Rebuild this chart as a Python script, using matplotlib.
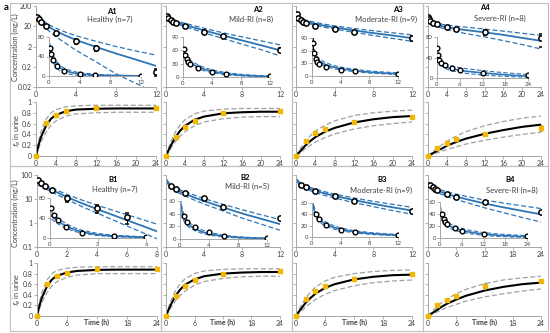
import numpy as np
import matplotlib.pyplot as plt
from matplotlib.patches import Rectangle

plt.rcParams['font.family'] = ['Lato', 'DejaVu Sans']

W, H = 550, 333
fig = plt.figure(figsize=(5.5, 3.33), dpi=100)

BLUE = '#2E75B6'
GOLD = '#F2B705'
AXC = '#A6A6A6'
TXT = '#404040'

# ---------------- concentration data ----------------
t_A = [0.083, 0.25, 0.5, 1, 2, 4, 6, 12]
t_A9 = [0.083, 0.25, 0.5, 0.75, 1, 2, 4, 6, 12]
t_A4 = [0.083, 0.25, 0.5, 1, 2, 4, 6, 12, 24]
t_B1 = [0.083, 0.25, 0.5, 1, 2, 4, 6]
t_B = [0.5, 1, 2, 4, 6, 12]
t_B4 = [0.5, 1, 1.5, 2, 4, 6, 12, 24]

c_A1 = [57, 45, 32, 20, 9.3, 3.7, 1.7, 0.11]
c_A2 = [62, 50, 41, 34, 29, 20, 11, 6.5, 1.4]
c_A3 = [78, 54, 40, 34, 29, 21, 15, 11, 5.2]
c_A4 = [58, 45, 36, 30, 25, 19, 15, 10, 5]
c_B1 = [60, 46, 36, 23, 10.5, 4.1, 1.7]
c_B2 = [36, 27, 18.5, 10.5, 4.8, 1.6]
c_B3 = [40, 32, 22, 13, 8.5, 3.3]
c_B4 = [40, 31, 27, 24, 16.5, 12, 7.5, 2.9]

sd_A1 = [0, 0, 0, 0, 0, 1.0, 0.5, 0.04]
sd_A2 = [0, 0, 0, 0, 0, 0, 2, 0.8, 0.3]
sd_A3 = [15, 0, 0, 0, 0, 0, 2, 0, 1.5]
sd_A4 = [0, 0, 0, 0, 0, 0, 0, 3, 3]
sd_B1 = [0, 0, 0, 0, 3, 1.5, 0.8]
sd_B2 = [0, 0, 0, 0, 0, 0]
sd_B3 = [0, 0, 0, 0, 0, 0]
sd_B4 = [0, 0, 0, 0, 0, 0, 0, 0]

# fitted curves (knots)
tk12 = [0.083, 0.25, 0.5, 1, 1.5, 2, 3, 4, 6, 8, 10, 12]
tk24 = [0.083, 0.25, 0.5, 1, 2, 3, 4, 6, 8, 12, 16, 20, 24]
tk8 = [0.083, 0.25, 0.5, 1, 1.5, 2, 3, 4, 6, 8]

fit_A1 = [62, 50, 38, 24, 16, 11.5, 6.8, 4.2, 1.9, 0.9, 0.45, 0.22]
up_A1 = [68, 56, 44, 30, 21, 16, 10, 6.8, 3.6, 2.0, 1.2, 0.75]
lo_A1 = [54, 42, 29, 16, 9.5, 6, 2.8, 1.3, 0.35, 0.09, 0.03, 0.01]

fit_A2 = [62, 52, 43, 33, 27, 23, 17, 12.5, 7, 4, 2.3, 1.3]
up_A2 = [68, 58, 49, 38, 32, 28, 21, 16, 9.5, 6, 3.8, 2.4]
lo_A2 = [56, 46, 37, 28, 23, 19, 13.5, 9.5, 5, 2.6, 1.4, 0.7]

fit_A3 = [72, 58, 46, 35, 30, 26, 21, 17.5, 12.5, 9.2, 7, 5.2]
up_A3 = [78, 64, 52, 40, 35, 31, 25, 21, 15.5, 12, 9.5, 7.5]
lo_A3 = [66, 52, 41, 31, 26, 22, 17.5, 14.5, 10, 7, 5, 3.6]

fit_A4 = [58, 47, 38, 30, 24, 20, 18, 15, 13, 10, 7.5, 5.3, 3.8]
up_A4 = [64, 53, 44, 35, 29, 25, 23, 20, 18, 14.5, 11.5, 9, 7]
lo_A4 = [52, 41, 32, 25, 19.5, 16, 14, 11, 8.7, 6, 3.9, 2.5, 1.5]

fit_B1 = [45, 40, 33, 24, 17, 12, 6.6, 3.8, 1.3, 0.45]
up_B1 = [52, 46, 39, 29, 21, 15.5, 9, 5.5, 2.2, 0.9]
lo_B1 = [38, 34, 28, 19.5, 13.5, 9.5, 4.8, 2.6, 0.75, 0.22]

fit_B2 = [58, 45, 34, 25, 20, 16.5, 11.5, 8.2, 4.5, 2.5, 1.5, 0.9]
up_B2 = [65, 51, 39, 29, 24, 20, 14.5, 10.5, 6, 3.6, 2.2, 1.4]
lo_B2 = [51, 39, 29, 21, 16.5, 13.5, 9, 6.2, 3.2, 1.6, 0.9, 0.5]

fit_B3 = [62, 50, 40, 31, 26, 22, 17, 13.5, 9, 6.3, 4.5, 3.3]
up_B3 = [68, 55, 45, 35, 30, 26, 20, 16, 11, 8, 6, 4.5]
lo_B3 = [56, 45, 35, 27, 22, 18.5, 14, 11, 7, 4.8, 3.3, 2.3]

fit_B4 = [48, 42, 35, 28, 22, 19, 16.5, 12.5, 10, 6.5, 4.5, 3.2, 2.3]
up_B4 = [54, 48, 41, 33, 26, 23, 20, 16, 13, 9, 6.8, 5.2, 4]
lo_B4 = [42, 36, 30, 24, 18, 15.5, 13, 9.5, 7.3, 4.3, 2.7, 1.7, 1.1]

# ---------------- fraction excreted in urine ----------------
t_fe = [0, 2, 4, 6, 12, 24]
fe_A1 = [0, 0.61, 0.76, 0.83, 0.88, 0.89]
fe_A2 = [0, 0.35, 0.54, 0.65, 0.80, 0.83]
fe_A3 = [0, 0.28, 0.42, 0.50, 0.63, 0.72]
fe_A4 = [0, 0.15, 0.24, 0.31, 0.41, 0.52]
fe_B1 = [0, 0.60, 0.75, 0.81, 0.88, 0.88]
fe_B2 = [0, 0.38, 0.57, 0.67, 0.79, 0.84]
fe_B3 = [0, 0.32, 0.48, 0.57, 0.70, 0.80]
fe_B4 = [0, 0.20, 0.30, 0.38, 0.57, 0.66]
fesd_A4 = [0, 0, 0, 0, 0, 0.06]
fesd_B4 = [0, 0, 0, 0, 0.06, 0]

tkf = [0, 0.5, 1, 2, 3, 4, 6, 8, 12, 16, 20, 24]
ffit_A1 = [0, 0.2, 0.35, 0.56, 0.69, 0.76, 0.83, 0.86, 0.875, 0.88, 0.88, 0.88]
fup_A1 = [0, 0.27, 0.45, 0.68, 0.80, 0.86, 0.91, 0.93, 0.94, 0.94, 0.94, 0.94]
flo_A1 = [0, 0.14, 0.26, 0.44, 0.57, 0.65, 0.74, 0.78, 0.80, 0.81, 0.81, 0.81]
ffit_A2 = [0, 0.1, 0.19, 0.35, 0.47, 0.56, 0.67, 0.73, 0.79, 0.81, 0.82, 0.82]
fup_A2 = [0, 0.14, 0.26, 0.45, 0.58, 0.67, 0.78, 0.83, 0.87, 0.88, 0.88, 0.88]
flo_A2 = [0, 0.07, 0.14, 0.27, 0.37, 0.45, 0.56, 0.63, 0.69, 0.72, 0.73, 0.73]
ffit_A3 = [0, 0.05, 0.1, 0.2, 0.28, 0.35, 0.45, 0.52, 0.62, 0.68, 0.72, 0.74]
fup_A3 = [0, 0.08, 0.15, 0.28, 0.38, 0.46, 0.57, 0.65, 0.75, 0.8, 0.83, 0.85]
flo_A3 = [0, 0.03, 0.07, 0.14, 0.2, 0.26, 0.34, 0.41, 0.5, 0.56, 0.6, 0.63]
ffit_A4 = [0, 0.025, 0.05, 0.1, 0.14, 0.19, 0.26, 0.32, 0.41, 0.48, 0.54, 0.58]
fup_A4 = [0, 0.04, 0.08, 0.15, 0.21, 0.27, 0.37, 0.45, 0.56, 0.64, 0.7, 0.74]
flo_A4 = [0, 0.015, 0.03, 0.06, 0.09, 0.12, 0.17, 0.22, 0.29, 0.35, 0.4, 0.44]
ffit_B1 = [0, 0.2, 0.35, 0.56, 0.69, 0.76, 0.82, 0.85, 0.87, 0.875, 0.875, 0.875]
fup_B1 = [0, 0.27, 0.45, 0.68, 0.80, 0.86, 0.90, 0.92, 0.93, 0.93, 0.93, 0.93]
flo_B1 = [0, 0.14, 0.26, 0.44, 0.57, 0.65, 0.73, 0.77, 0.80, 0.80, 0.80, 0.80]
ffit_B2 = [0, 0.11, 0.21, 0.38, 0.5, 0.59, 0.69, 0.75, 0.8, 0.82, 0.83, 0.83]
fup_B2 = [0, 0.15, 0.28, 0.48, 0.61, 0.7, 0.8, 0.85, 0.88, 0.89, 0.89, 0.89]
flo_B2 = [0, 0.08, 0.15, 0.29, 0.39, 0.47, 0.58, 0.65, 0.71, 0.74, 0.75, 0.75]
ffit_B3 = [0, 0.07, 0.13, 0.25, 0.34, 0.42, 0.53, 0.6, 0.69, 0.74, 0.77, 0.78]
fup_B3 = [0, 0.1, 0.19, 0.34, 0.45, 0.54, 0.66, 0.73, 0.8, 0.84, 0.86, 0.87]
flo_B3 = [0, 0.04, 0.08, 0.17, 0.24, 0.31, 0.41, 0.48, 0.57, 0.63, 0.66, 0.68]
ffit_B4 = [0, 0.03, 0.06, 0.12, 0.18, 0.23, 0.31, 0.38, 0.48, 0.55, 0.6, 0.63]
fup_B4 = [0, 0.05, 0.1, 0.18, 0.26, 0.32, 0.42, 0.5, 0.61, 0.68, 0.72, 0.75]
flo_B4 = [0, 0.02, 0.04, 0.08, 0.12, 0.16, 0.22, 0.28, 0.36, 0.42, 0.47, 0.51]

titles = ['A1', 'A2', 'A3', 'A4', 'B1', 'B2', 'B3', 'B4']
groups = ['Healthy (n=7)', 'Mild-RI (n=8)', 'Moderate-RI (n=9)', 'Severe-RI (n=8)',
          'Healthy (n=7)', 'Mild-RI (n=5)', 'Moderate-RI (n=9)', 'Severe-RI (n=8)']

conc = [
    (t_A, c_A1, sd_A1, tk12, fit_A1, up_A1, lo_A1),
    (t_A9, c_A2, sd_A2, tk12, fit_A2, up_A2, lo_A2),
    (t_A9, c_A3, sd_A3, tk12, fit_A3, up_A3, lo_A3),
    (t_A4, c_A4, sd_A4, tk24, fit_A4, up_A4, lo_A4),
    (t_B1, c_B1, sd_B1, tk8, fit_B1, up_B1, lo_B1),
    (t_B, c_B2, sd_B2, tk12, fit_B2, up_B2, lo_B2),
    (t_B, c_B3, sd_B3, tk12, fit_B3, up_B3, lo_B3),
    (t_B4, c_B4, sd_B4, tk24, fit_B4, up_B4, lo_B4),
]
fes = [
    (fe_A1, None, ffit_A1, fup_A1, flo_A1), (fe_A2, None, ffit_A2, fup_A2, flo_A2),
    (fe_A3, None, ffit_A3, fup_A3, flo_A3), (fe_A4, fesd_A4, ffit_A4, fup_A4, flo_A4),
    (fe_B1, None, ffit_B1, fup_B1, flo_B1), (fe_B2, None, ffit_B2, fup_B2, flo_B2),
    (fe_B3, None, ffit_B3, fup_B3, flo_B3), (fe_B4, fesd_B4, ffit_B4, fup_B4, flo_B4),
]

# ---------------- layout (pixels) ----------------
colx = [(36, 156), (166, 280), (296, 412), (428, 541)]
rows = {'A': dict(conc=(6, 87), fe=(102, 156), ylim=(0.02, 200),
                  yt=[0.02, 0.2, 2, 20, 200], ytl=['0.02', '0.2', '2', '20', '200'],
                  cl=47, fl=130),
        'B': dict(conc=(175, 247), fe=(263, 316), ylim=(0.1, 100),
                  yt=[0.1, 1, 10, 100], ytl=['0.1', '1', '10', '100'],
                  cl=213, fl=289)}
main_x = [(12, [0, 4, 8, 12]), (12, [0, 4, 8, 12]), (12, [0, 4, 8, 12]), (24, [0, 4, 8, 12, 16, 20, 24]),
          (8, [0, 2, 4, 6, 8]), (12, [0, 4, 8, 12]), (12, [0, 4, 8, 12]), (24, [0, 6, 12, 18, 24])]
insets = [(49, 37, 141, 76, 80, [0, 40, 80], 12, [0, 4, 8, 12]),
          (183, 37, 270, 77, 90, [0, 30, 60, 90], 12, [0, 4, 8, 12]),
          (312, 38, 398, 76, 90, [0, 30, 60, 90], 12, [0, 4, 8, 12]),
          (437, 37, 528, 78, 80, [0, 40, 80], 24, [0, 6, 12, 18, 24]),
          (50, 198, 146, 238, 80, [0, 40, 80], 6, [0, 3, 6]),
          (180, 201, 267, 239, 60, [0, 20, 40, 60], 12, [0, 4, 8, 12]),
          (312, 203, 398, 237, 60, [0, 20, 40, 60], 12, [0, 4, 8, 12]),
          (440, 202, 527, 238, 60, [0, 20, 40, 60], 24, [0, 6, 12, 18, 24])]
title_pos = [(112, 11, 110, 19), (258, 10, 251, 19), (398, 10, 386, 19), (485, 8, 500, 18),
             (113, 180, 115, 189), (245, 177, 247, 186), (382, 180, 381, 190), (510, 180, 512, 190)]


def px_axes(x0, y0, x1, y1):
    return fig.add_axes([x0 / W, 1 - y1 / H, (x1 - x0) / W, (y1 - y0) / H])


def style(ax, fs=5):
    for s in ['top', 'right']:
        ax.spines[s].set_visible(False)
    for s in ['left', 'bottom']:
        ax.spines[s].set_color(AXC)
        ax.spines[s].set_linewidth(0.7)
    ax.tick_params(length=2, width=0.6, color=AXC, labelsize=fs, labelcolor=TXT, pad=1)
    ax.patch.set_alpha(0)


# frames
for (x0, x1) in [(10, 161), (161, 292), (292, 423), (423, 548)]:
    for (y0, y1) in [(3, 166), (166, 331)]:
        fig.patches.append(Rectangle((x0 / W, 1 - y1 / H), (x1 - x0) / W, (y1 - y0) / H,
                                     transform=fig.transFigure, fill=False,
                                     edgecolor='#BFBFBF', linewidth=0.8))

fig.text(4 / W, 1 - 8 / H, 'a', fontsize=7, fontweight='bold', va='center', ha='left')

for i in range(8):
    row = 'A' if i < 4 else 'B'
    col = i % 4
    R = rows[row]
    x0, x1 = colx[col]
    if i == 4:
        x0, x1 = 37, 157
    t, c, sd, tk, fit, up, lo = conc[i]
    xmax, xt = main_x[i]

    ax = px_axes(x0, R['conc'][0], x1, R['conc'][1])
    style(ax)
    ax.set_yscale('log')
    ax.set_ylim(*R['ylim'])
    ax.set_xlim(0, xmax)
    ax.set_xticks(xt)
    ax.set_yticks(R['yt'])
    ax.minorticks_off()
    if col == 0:
        ax.set_yticklabels(R['ytl'])
        fig.text(15 / W, 1 - R['cl'] / H, 'Concentration (mg/L)', fontsize=5.2, color=TXT,
                 rotation=90, ha='center', va='center')
    else:
        ax.set_yticklabels([])
    ax.plot(tk, fit, color=BLUE, lw=1.3)
    ax.plot(tk, up, color=BLUE, lw=0.9, dashes=(4, 2))
    ax.plot(tk, lo, color=BLUE, lw=0.9, dashes=(4, 2))
    ax.errorbar(t, c, yerr=sd, fmt='o', ms=3.8, mfc='white', mec='black', mew=1.1,
                ecolor='black', elinewidth=0.7, capsize=1.2, zorder=5)
    tx, ty, sx, sy = title_pos[i]
    fig.text(tx / W, 1 - ty / H, titles[i], fontsize=5.5, fontweight='bold', ha='center', va='center')
    fig.text(sx / W, 1 - sy / H, groups[i], fontsize=5.5, color=TXT, ha='center', va='center')

    # inset (linear)
    ix0, iy0, ix1, iy1, iymax, iyt, ixmax, ixt = insets[i]
    ia = px_axes(ix0, iy0, ix1, iy1)
    style(ia, fs=4.3)
    ia.set_xlim(0, ixmax)
    ia.set_ylim(0, iymax)
    ia.set_xticks(ixt)
    ia.set_yticks(iyt)
    ia.plot(tk, fit, color=BLUE, lw=1.2)
    ia.plot(tk, up, color=BLUE, lw=0.8, dashes=(4, 2))
    ia.plot(tk, lo, color=BLUE, lw=0.8, dashes=(4, 2))
    ia.errorbar(t, c, yerr=sd, fmt='o', ms=3.4, mfc='white', mec='black', mew=1.0,
                ecolor='black', elinewidth=0.6, capsize=1, zorder=5)

    # fe panel
    fe, fsd, ffit, fup, flo = fes[i]
    fx0, fx1 = colx[col]
    if i == 4:
        fx0, fx1 = 37, 157
    fa = px_axes(fx0, R['fe'][0], fx1, R['fe'][1])
    style(fa)
    fa.set_xlim(0, 24)
    fa.set_ylim(0, 1)
    fa.set_yticks([0, 0.2, 0.4, 0.6, 0.8, 1])
    if col == 0:
        fa.set_yticklabels(['0', '0.2', '0.4', '0.6', '0.8', '1'])
        fig.text(17 / W, 1 - R['fl'] / H, r'$f_e$ in urine', fontsize=5.2, color=TXT,
                 rotation=90, ha='center', va='center')
    else:
        fa.set_yticklabels([])
    if row == 'A':
        fa.set_xticks([0, 4, 8, 12, 16, 20, 24])
    else:
        fa.set_xticks([0, 6, 12, 18, 24])
        fa.set_xticklabels(['0', '6', '', '18', '24'])
        fa.text(12, -0.06, 'Time (h)', fontsize=5, fontweight='bold', color=TXT,
                ha='center', va='top')
    fa.plot(tkf, fup, color='#A0A0A0', lw=0.9, dashes=(4, 2))
    fa.plot(tkf, flo, color='#A0A0A0', lw=0.9, dashes=(4, 2))
    fa.plot(tkf, ffit, color='black', lw=1.5)
    fa.errorbar(t_fe, fe, yerr=fsd, fmt='s', ms=3.0, mfc=GOLD, mec=GOLD,
                ecolor='#7F7F7F', elinewidth=0.6, capsize=1, zorder=5, clip_on=False)

fig.savefig('out.png', dpi=100)
